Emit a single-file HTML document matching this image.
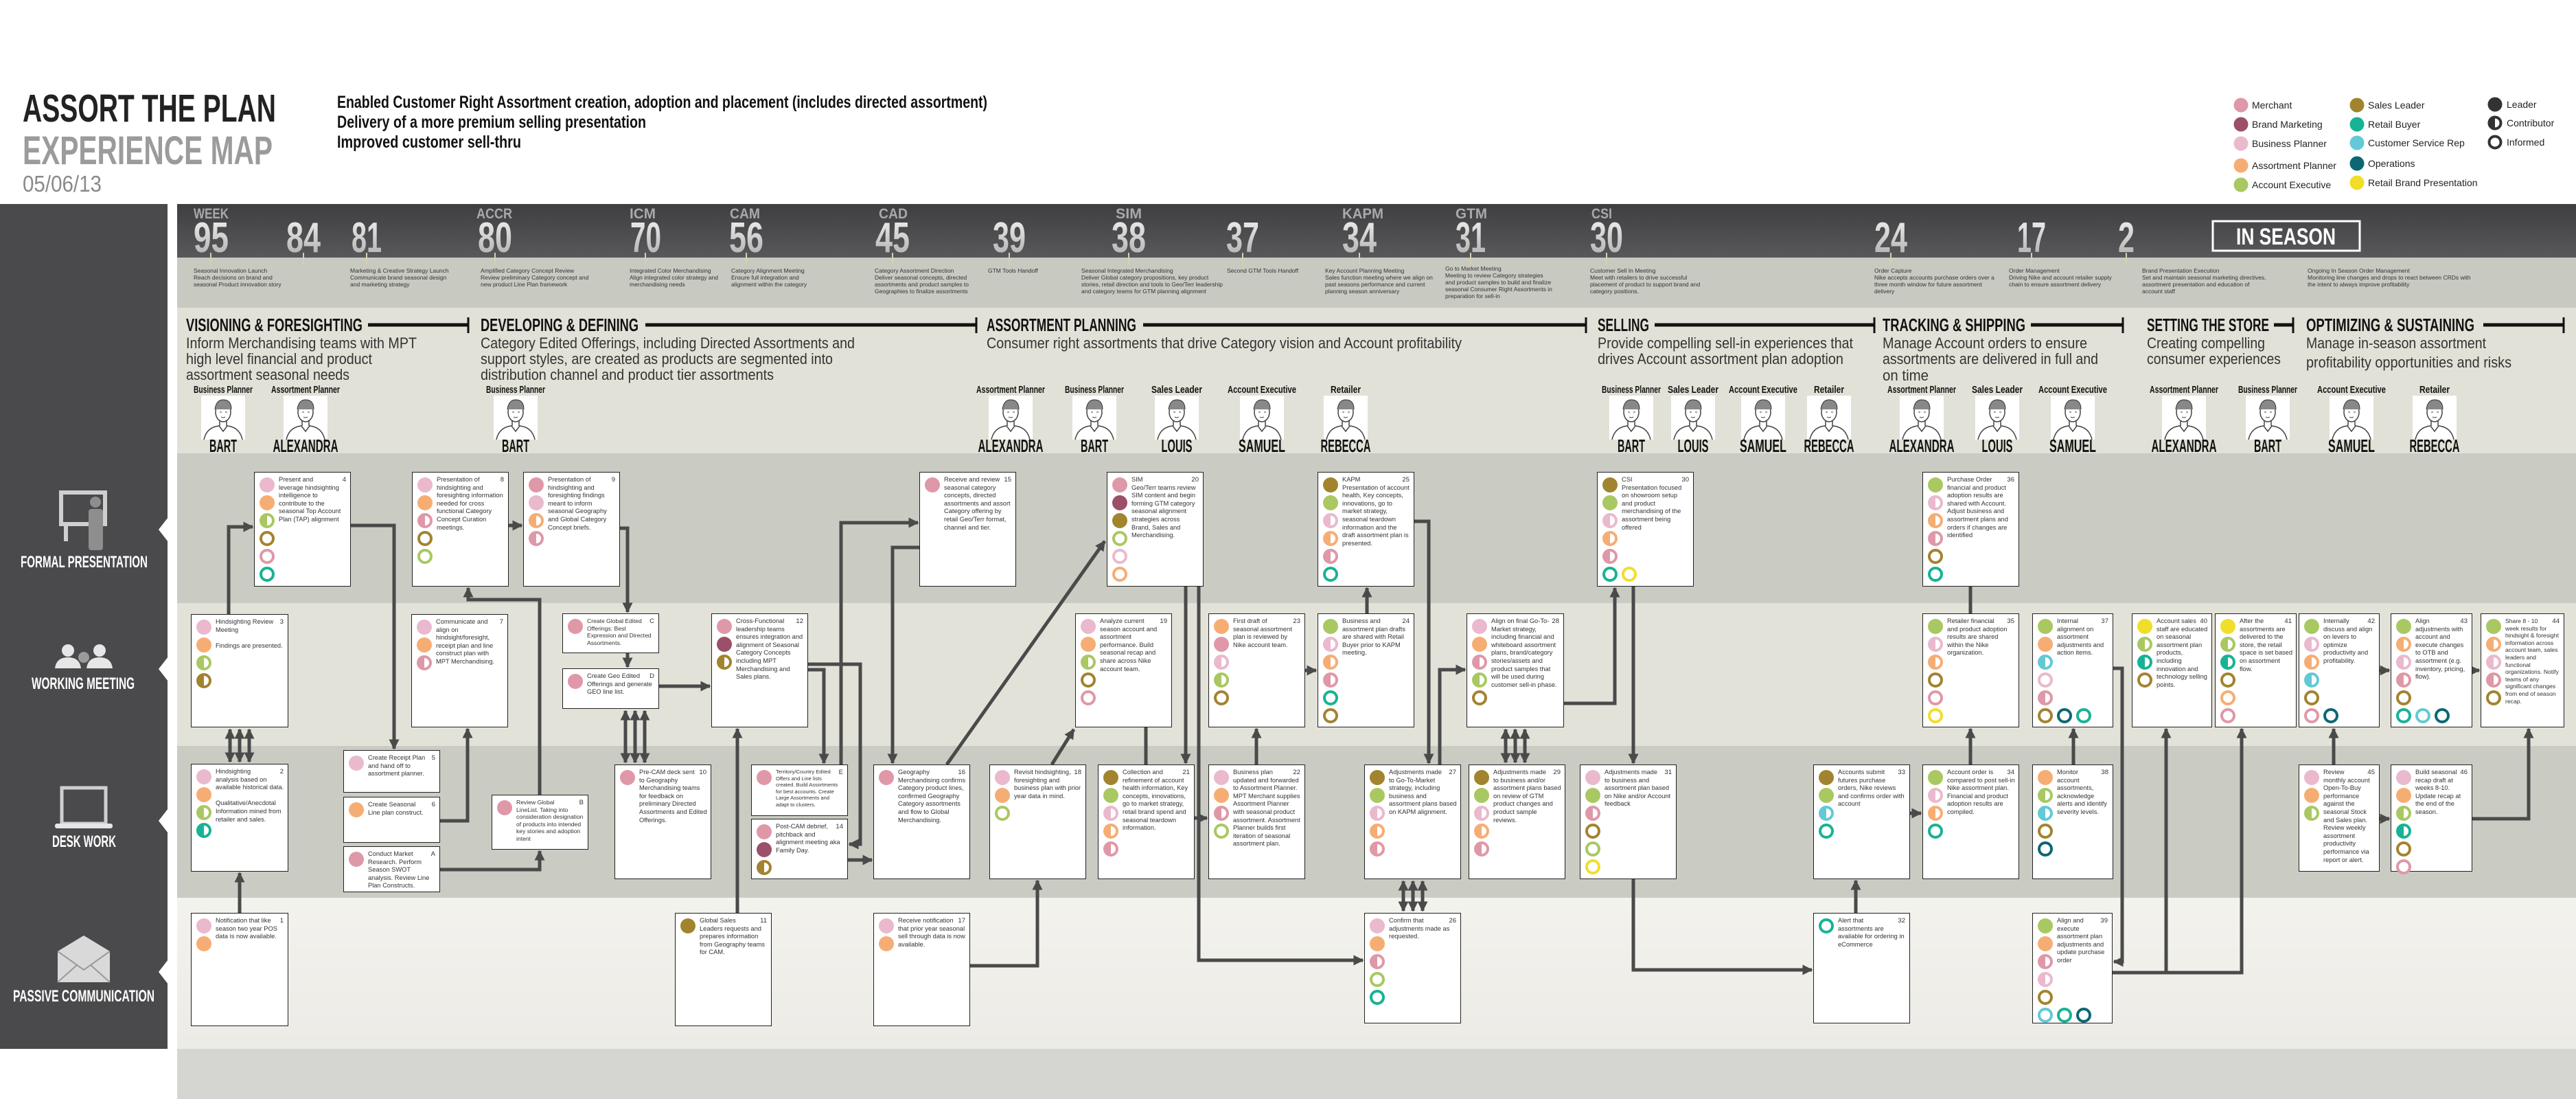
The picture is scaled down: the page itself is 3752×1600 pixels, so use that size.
<!DOCTYPE html>
<html><head><meta charset="utf-8"><style>
body{margin:0;width:3752px;height:1600px;position:relative;overflow:hidden;background:#fff;font-family:"Liberation Sans",sans-serif}
svg.bg{position:absolute;left:0;top:0}
.c{position:absolute;background:#fff;border:1.5px solid #222;box-sizing:border-box;font-size:9.3px;line-height:11.6px;color:#333}
.c p{position:absolute;left:35px;top:5px;right:5px;margin:0}
.c p::before{content:"";float:right;width:13px;height:11px}
.c i{position:absolute;right:6px;top:5px;font-style:normal;font-size:9.5px}
.ds{position:absolute;left:7px;top:7px}
.ds u,.ds s u{display:block;width:22px;height:22px;border-radius:50%;box-sizing:border-box;margin-bottom:4px}
.ds s{display:flex;gap:6px;text-decoration:none}
.F{background:var(--c)}
.R{border:4.5px solid var(--c);background:#fff}
.H{border:4px solid var(--c);background:linear-gradient(90deg,var(--c) 50%,#fff 50%)}
.m{--c:#df98a8}.bm{--c:#9b4f68}.bp{--c:#eab9cd}.ap{--c:#f6ad74}.ae{--c:#a9c862}.sl{--c:#a2842f}.rb{--c:#17b394}.cs{--c:#63c9d6}.op{--c:#0d6772}.rbp{--c:#f1de2b}
.sm{font-size:7.6px!important;line-height:9.6px!important}
.xs{font-size:8.6px!important;line-height:10.6px!important}
</style></head><body>
<svg class="bg" width="3752" height="1600" viewBox="0 0 3752 1600" xmlns="http://www.w3.org/2000/svg" font-family="Liberation Sans, sans-serif">
<defs>
<linearGradient id="ng" x1="0" y1="0" x2="0" y2="1"><stop offset="0" stop-color="#f4f4f4"/><stop offset="1" stop-color="#a9a9a9"/></linearGradient>
<linearGradient id="tb" x1="0" y1="0" x2="0" y2="1"><stop offset="0" stop-color="#3f3f41"/><stop offset="1" stop-color="#58585a"/></linearGradient>
<linearGradient id="pv" x1="0" y1="0" x2="0" y2="1"><stop offset="0" stop-color="#f3f2ed"/><stop offset="1" stop-color="#ecebe6"/></linearGradient>
<marker id="a" viewBox="0 0 10 10" refX="9" refY="5" markerWidth="3" markerHeight="3" orient="auto-start-reverse"><path d="M0,0L10,5L0,10z" fill="#4a4a4a"/></marker>
<g id="pf"><rect x="-32" y="0" width="64" height="64" fill="#fff"/><ellipse cx="0" cy="24" rx="11" ry="14" fill="none" stroke="#444" stroke-width="1.5"/><path d="M-12,20 Q-10,6 0,6 Q12,6 12,20" fill="#888" stroke="#333"/><path d="M-5,37 L-5,44 M5,37 L5,44 M-28,64 Q-24,46 -6,44 L0,52 L6,44 Q24,46 28,64" fill="none" stroke="#444" stroke-width="1.5"/><path d="M-5,24 h3 M3,24 h3 M-3,31 Q0,33 3,31" stroke="#444" fill="none"/></g>
</defs>
<text x="33" y="177" font-size="57" font-weight="bold" fill="#222" textLength="369" lengthAdjust="spacingAndGlyphs">ASSORT THE PLAN</text>
<text x="33" y="239" font-size="58" font-weight="bold" fill="#9b9b9b" textLength="364" lengthAdjust="spacingAndGlyphs">EXPERIENCE MAP</text>
<text x="33" y="279" font-size="33" fill="#8a8a8a" textLength="115" lengthAdjust="spacingAndGlyphs">05/06/13</text>
<g font-size="25" font-weight="bold" fill="#111">
<text x="491" y="157" textLength="947" lengthAdjust="spacingAndGlyphs">Enabled Customer Right Assortment creation, adoption and placement (includes directed assortment)</text>
<text x="491" y="186" textLength="450" lengthAdjust="spacingAndGlyphs">Delivery of a more premium selling presentation</text>
<text x="491" y="215" textLength="268" lengthAdjust="spacingAndGlyphs">Improved customer sell-thru</text>
</g>
<g font-size="14" fill="#222">
<circle cx="3264" cy="153" r="10.5" fill="#df98a8"/><text x="3280" y="158">Merchant</text>
<circle cx="3264" cy="181" r="10.5" fill="#9b4f68"/><text x="3280" y="186">Brand Marketing</text>
<circle cx="3264" cy="209" r="10.5" fill="#eab9cd"/><text x="3280" y="214">Business Planner</text>
<circle cx="3264" cy="241" r="10.5" fill="#f6ad74"/><text x="3280" y="246">Assortment Planner</text>
<circle cx="3264" cy="269" r="10.5" fill="#a9c862"/><text x="3280" y="274">Account Executive</text>
<circle cx="3433" cy="153" r="10.5" fill="#a2842f"/><text x="3449" y="158">Sales Leader</text>
<circle cx="3433" cy="181" r="10.5" fill="#17b394"/><text x="3449" y="186">Retail Buyer</text>
<circle cx="3433" cy="208" r="10.5" fill="#63c9d6"/><text x="3449" y="213">Customer Service Rep</text>
<circle cx="3433" cy="238" r="10.5" fill="#0d6772"/><text x="3449" y="243">Operations</text>
<circle cx="3433" cy="266" r="10.5" fill="#f1de2b"/><text x="3449" y="271">Retail Brand Presentation</text>
<circle cx="3634" cy="152" r="10.5" fill="#333"/><text x="3651" y="157">Leader</text>
<circle cx="3634" cy="179" r="8.5" fill="#fff" stroke="#333" stroke-width="4"/><path d="M3634,168.5 A10.5,10.5 0 0 0 3634,189.5z" fill="#333"/><text x="3651" y="184">Contributor</text>
<circle cx="3634" cy="207" r="8.5" fill="#fff" stroke="#333" stroke-width="4"/><text x="3651" y="212">Informed</text>
</g>
<rect x="0" y="297" width="244" height="1230" fill="#4a4a4c"/>
<rect x="258" y="297" width="3494" height="78" fill="url(#tb)"/>
<rect x="258" y="375" width="3494" height="73" fill="#c8c9c1"/>
<rect x="258" y="448" width="3494" height="212" fill="#e2e1d7"/>
<rect x="258" y="660" width="3494" height="218" fill="#cacbc3"/>
<rect x="258" y="878" width="3494" height="208" fill="#e3e2d9"/>
<rect x="258" y="1086" width="3494" height="221" fill="#cacbc3"/>
<rect x="258" y="1307" width="3494" height="220" fill="url(#pv)"/>
<rect x="258" y="1527" width="3494" height="73" fill="#d5d6d1"/>
<g fill="#fff"><polygon points="245,753 231,771 245,789"/><polygon points="245,956 231,974 245,992"/><polygon points="245,1177 231,1195 245,1213"/><polygon points="245,1397 231,1415 245,1433"/></g>
<g fill="none" stroke="#cfcfcf" stroke-width="6"><rect x="89" y="717" width="64" height="46"/><path d="M96,763 V788"/></g>
<circle cx="139" cy="731" r="8" fill="#8e8e8e"/><rect x="129" y="741" width="21" height="60" rx="4" fill="#8e8e8e"/>
<g fill="#e6e6e6"><circle cx="99" cy="947" r="9"/><circle cx="145" cy="947" r="9"/><path d="M80,973 Q82,957 99,957 Q116,957 118,973z"/><path d="M126,973 Q128,957 145,957 Q162,957 164,973z"/></g><g fill="#9a9a9a"><circle cx="122" cy="957" r="8"/></g>
<rect x="90" y="1147" width="64" height="52" fill="none" stroke="#cfcfcf" stroke-width="5"/><rect x="80" y="1199" width="84" height="7" rx="3" fill="#e6e6e6"/>
<path d="M84,1385 L122,1362 L160,1385 V1430 H84z" fill="#d9d9d9"/><path d="M84,1385 L122,1412 L160,1385 M84,1430 L112,1405 M160,1430 L132,1405" stroke="#999" stroke-width="2" fill="none"/>
<g font-size="24" font-weight="bold" fill="#fff">
<text x="30" y="826" textLength="185" lengthAdjust="spacingAndGlyphs">FORMAL PRESENTATION</text>
<text x="46" y="1003" textLength="150" lengthAdjust="spacingAndGlyphs">WORKING MEETING</text>
<text x="76" y="1233" textLength="93" lengthAdjust="spacingAndGlyphs">DESK WORK</text>
<text x="19" y="1458" textLength="206" lengthAdjust="spacingAndGlyphs">PASSIVE COMMUNICATION</text>
</g>
<g font-size="21" font-weight="bold" fill="#a9a9ab">
<text x="282" y="318" textLength="51" lengthAdjust="spacingAndGlyphs">WEEK</text>
<text x="694" y="318" textLength="52" lengthAdjust="spacingAndGlyphs">ACCR</text>
<text x="917" y="318" textLength="38" lengthAdjust="spacingAndGlyphs">ICM</text>
<text x="1063" y="318" textLength="44" lengthAdjust="spacingAndGlyphs">CAM</text>
<text x="1280" y="318" textLength="42" lengthAdjust="spacingAndGlyphs">CAD</text>
<text x="1625" y="318" textLength="38" lengthAdjust="spacingAndGlyphs">SIM</text>
<text x="1955" y="318" textLength="60" lengthAdjust="spacingAndGlyphs">KAPM</text>
<text x="2120" y="318" textLength="46" lengthAdjust="spacingAndGlyphs">GTM</text>
<text x="2318" y="318" textLength="30" lengthAdjust="spacingAndGlyphs">CSI</text>
</g>
<g font-size="62" font-weight="bold" fill="url(#ng)">
<text x="282" y="367" textLength="51" lengthAdjust="spacingAndGlyphs">95</text>
<text x="417" y="367" textLength="50" lengthAdjust="spacingAndGlyphs">84</text>
<text x="512" y="367" textLength="44" lengthAdjust="spacingAndGlyphs">81</text>
<text x="696" y="367" textLength="50" lengthAdjust="spacingAndGlyphs">80</text>
<text x="918" y="367" textLength="45" lengthAdjust="spacingAndGlyphs">70</text>
<text x="1062" y="367" textLength="50" lengthAdjust="spacingAndGlyphs">56</text>
<text x="1275" y="367" textLength="50" lengthAdjust="spacingAndGlyphs">45</text>
<text x="1446" y="367" textLength="48" lengthAdjust="spacingAndGlyphs">39</text>
<text x="1619" y="367" textLength="50" lengthAdjust="spacingAndGlyphs">38</text>
<text x="1786" y="367" textLength="48" lengthAdjust="spacingAndGlyphs">37</text>
<text x="1955" y="367" textLength="50" lengthAdjust="spacingAndGlyphs">34</text>
<text x="2120" y="367" textLength="44" lengthAdjust="spacingAndGlyphs">31</text>
<text x="2316" y="367" textLength="48" lengthAdjust="spacingAndGlyphs">30</text>
<text x="2730" y="367" textLength="48" lengthAdjust="spacingAndGlyphs">24</text>
<text x="2938" y="367" textLength="42" lengthAdjust="spacingAndGlyphs">17</text>
<text x="3085" y="367" textLength="24" lengthAdjust="spacingAndGlyphs">2</text>
</g>
<g stroke="#d6d1ad" stroke-width="2"><path d="M307,368V385M442,368V385M534,368V385M721,368V385M940,368V385M1087,368V385M1300,368V385M1470,368V385M1644,368V385M1810,368V385M1980,368V385M2142,368V385M2340,368V385M2754,368V385M2959,368V385M3097,368V385"/></g>
<rect x="3223" y="322" width="214" height="43" fill="none" stroke="#fff" stroke-width="3"/>
<text x="3257" y="356" font-size="34" font-weight="bold" fill="#fff" textLength="145" lengthAdjust="spacingAndGlyphs">IN SEASON</text>
<g font-size="8.5" fill="#333">
<text x="282" y="397"><tspan x="282">Seasonal Innovation Launch</tspan><tspan x="282" dy="10">Reach decisions on brand and</tspan><tspan x="282" dy="10">seasonal Product innovation story</tspan></text>
<text x="510" y="397"><tspan x="510">Marketing &amp; Creative Strategy Launch</tspan><tspan x="510" dy="10">Communicate brand seasonal design</tspan><tspan x="510" dy="10">and marketing strategy</tspan></text>
<text x="700" y="397"><tspan x="700">Amplified Category Concept Review</tspan><tspan x="700" dy="10">Review preliminary Category concept and</tspan><tspan x="700" dy="10">new product Line Plan framework</tspan></text>
<text x="917" y="397"><tspan x="917">Integrated Color Merchandising</tspan><tspan x="917" dy="10">Align integrated color strategy and</tspan><tspan x="917" dy="10">merchandising needs</tspan></text>
<text x="1065" y="397"><tspan x="1065">Category Alignment Meeting</tspan><tspan x="1065" dy="10">Ensure full integration and</tspan><tspan x="1065" dy="10">alignment within the category</tspan></text>
<text x="1274" y="397"><tspan x="1274">Category Assortment Direction</tspan><tspan x="1274" dy="10">Deliver seasonal concepts, directed</tspan><tspan x="1274" dy="10">assortments and product samples to</tspan><tspan x="1274" dy="10">Geographies to finalize assortments</tspan></text>
<text x="1439" y="397">GTM Tools Handoff</text>
<text x="1575" y="397"><tspan x="1575">Seasonal Integrated Merchandising</tspan><tspan x="1575" dy="10">Deliver Global category propositions, key product</tspan><tspan x="1575" dy="10">stories, retail direction and tools to Geo/Terr leadership</tspan><tspan x="1575" dy="10">and category teams for GTM planning alignment</tspan></text>
<text x="1787" y="397">Second GTM Tools Handoff</text>
<text x="1930" y="397"><tspan x="1930">Key Account Planning Meeting</tspan><tspan x="1930" dy="10">Sales function meeting where we align on</tspan><tspan x="1930" dy="10">past seasons performance and current</tspan><tspan x="1930" dy="10">planning season anniversary</tspan></text>
<text x="2105" y="394"><tspan x="2105">Go to Market Meeting</tspan><tspan x="2105" dy="10">Meeting to review Category strategies</tspan><tspan x="2105" dy="10">and product samples to build and finalize</tspan><tspan x="2105" dy="10">seasonal Consumer Right Assortments in</tspan><tspan x="2105" dy="10">preparation for sell-in</tspan></text>
<text x="2316" y="397"><tspan x="2316">Customer Sell In Meeting</tspan><tspan x="2316" dy="10">Meet with retailers to drive successful</tspan><tspan x="2316" dy="10">placement of product to support brand and</tspan><tspan x="2316" dy="10">category positions.</tspan></text>
<text x="2730" y="397"><tspan x="2730">Order Capture</tspan><tspan x="2730" dy="10">Nike accepts accounts purchase orders over a</tspan><tspan x="2730" dy="10">three month window for future assortment</tspan><tspan x="2730" dy="10">delivery</tspan></text>
<text x="2926" y="397"><tspan x="2926">Order Management</tspan><tspan x="2926" dy="10">Driving Nike and account retailer supply</tspan><tspan x="2926" dy="10">chain to ensure assortment delivery</tspan></text>
<text x="3120" y="397"><tspan x="3120">Brand Presentation Execution</tspan><tspan x="3120" dy="10">Set and maintain seasonal marketing directives,</tspan><tspan x="3120" dy="10">assortment presentation and education of</tspan><tspan x="3120" dy="10">account staff</tspan></text>
<text x="3361" y="397"><tspan x="3361">Ongoing In Season Order Management</tspan><tspan x="3361" dy="10">Monitoring line changes and drops to react between CRDs with</tspan><tspan x="3361" dy="10">the intent to always improve profitability</tspan></text>
</g>
<g font-size="26" font-weight="bold" fill="#111">
<text x="271" y="482" textLength="257" lengthAdjust="spacingAndGlyphs">VISIONING &amp; FORESIGHTING</text>
<text x="700" y="482" textLength="230" lengthAdjust="spacingAndGlyphs">DEVELOPING &amp; DEFINING</text>
<text x="1437" y="482" textLength="218" lengthAdjust="spacingAndGlyphs">ASSORTMENT PLANNING</text>
<text x="2327" y="482" textLength="75" lengthAdjust="spacingAndGlyphs">SELLING</text>
<text x="2742" y="482" textLength="208" lengthAdjust="spacingAndGlyphs">TRACKING &amp; SHIPPING</text>
<text x="3127" y="482" textLength="178" lengthAdjust="spacingAndGlyphs">SETTING THE STORE</text>
<text x="3359" y="482" textLength="245" lengthAdjust="spacingAndGlyphs">OPTIMIZING &amp; SUSTAINING</text>
</g>
<g stroke="#111" stroke-width="5"><path d="M536,473H681M940,473H1421M1665,473H2309M2410,473H2729M2958,473H3091M3312,473H3339M3617,473H3733"/></g>
<g stroke="#111" stroke-width="3"><path d="M682,462V485M1422,462V485M2310,462V485M2730,462V485M3092,462V485M3340,462V485M3734,462V485"/></g>
<g font-size="22" fill="#333">
<text x="271" y="507" textLength="336" lengthAdjust="spacingAndGlyphs">Inform Merchandising teams with MPT</text>
<text x="271" y="530" textLength="271" lengthAdjust="spacingAndGlyphs">high level financial and product</text>
<text x="271" y="553" textLength="238" lengthAdjust="spacingAndGlyphs">assortment seasonal needs</text>
<text x="700" y="507" textLength="545" lengthAdjust="spacingAndGlyphs">Category Edited Offerings, including Directed Assortments and</text>
<text x="700" y="530" textLength="513" lengthAdjust="spacingAndGlyphs">support styles, are created as products are segmented into</text>
<text x="700" y="553" textLength="427" lengthAdjust="spacingAndGlyphs">distribution channel and product tier assortments</text>
<text x="1437" y="507" textLength="692" lengthAdjust="spacingAndGlyphs">Consumer right assortments that drive Category vision and Account profitability</text>
<text x="2327" y="507" textLength="372" lengthAdjust="spacingAndGlyphs">Provide compelling sell-in experiences that</text>
<text x="2327" y="530" textLength="358" lengthAdjust="spacingAndGlyphs">drives Account assortment plan adoption</text>
<text x="2742" y="507" textLength="298" lengthAdjust="spacingAndGlyphs">Manage Account orders to ensure</text>
<text x="2742" y="530" textLength="314" lengthAdjust="spacingAndGlyphs">assortments are delivered in full and</text>
<text x="2742" y="554" textLength="67" lengthAdjust="spacingAndGlyphs">on time</text>
<text x="3127" y="507" textLength="172" lengthAdjust="spacingAndGlyphs">Creating compelling</text>
<text x="3127" y="530" textLength="195" lengthAdjust="spacingAndGlyphs">consumer experiences</text>
<text x="3359" y="507" textLength="262" lengthAdjust="spacingAndGlyphs">Manage in-season assortment</text>
<text x="3359" y="535" textLength="299" lengthAdjust="spacingAndGlyphs">profitability opportunities and risks</text>
</g>
<g font-weight="bold" fill="#111" text-anchor="middle">
<g transform="translate(325,0)"><text y="572" font-size="15" textLength="86" lengthAdjust="spacingAndGlyphs">Business Planner</text><use href="#pf" y="576"/><text y="658" font-size="26" textLength="40" lengthAdjust="spacingAndGlyphs">BART</text></g>
<g transform="translate(445,0)"><text y="572" font-size="15" textLength="100" lengthAdjust="spacingAndGlyphs">Assortment Planner</text><use href="#pf" y="576"/><text y="658" font-size="26" textLength="95" lengthAdjust="spacingAndGlyphs">ALEXANDRA</text></g>
<g transform="translate(751,0)"><text y="572" font-size="15" textLength="86" lengthAdjust="spacingAndGlyphs">Business Planner</text><use href="#pf" y="576"/><text y="658" font-size="26" textLength="40" lengthAdjust="spacingAndGlyphs">BART</text></g>
<g transform="translate(1472,0)"><text y="572" font-size="15" textLength="100" lengthAdjust="spacingAndGlyphs">Assortment Planner</text><use href="#pf" y="576"/><text y="658" font-size="26" textLength="95" lengthAdjust="spacingAndGlyphs">ALEXANDRA</text></g>
<g transform="translate(1594,0)"><text y="572" font-size="15" textLength="86" lengthAdjust="spacingAndGlyphs">Business Planner</text><use href="#pf" y="576"/><text y="658" font-size="26" textLength="40" lengthAdjust="spacingAndGlyphs">BART</text></g>
<g transform="translate(1714,0)"><text y="572" font-size="15" textLength="74" lengthAdjust="spacingAndGlyphs">Sales Leader</text><use href="#pf" y="576"/><text y="658" font-size="26" textLength="45" lengthAdjust="spacingAndGlyphs">LOUIS</text></g>
<g transform="translate(1838,0)"><text y="572" font-size="15" textLength="100" lengthAdjust="spacingAndGlyphs">Account Executive</text><use href="#pf" y="576"/><text y="658" font-size="26" textLength="68" lengthAdjust="spacingAndGlyphs">SAMUEL</text></g>
<g transform="translate(1960,0)"><text y="572" font-size="15" textLength="44" lengthAdjust="spacingAndGlyphs">Retailer</text><use href="#pf" y="576"/><text y="658" font-size="26" textLength="73" lengthAdjust="spacingAndGlyphs">REBECCA</text></g>
<g transform="translate(2376,0)"><text y="572" font-size="15" textLength="86" lengthAdjust="spacingAndGlyphs">Business Planner</text><use href="#pf" y="576"/><text y="658" font-size="26" textLength="40" lengthAdjust="spacingAndGlyphs">BART</text></g>
<g transform="translate(2466,0)"><text y="572" font-size="15" textLength="74" lengthAdjust="spacingAndGlyphs">Sales Leader</text><use href="#pf" y="576"/><text y="658" font-size="26" textLength="45" lengthAdjust="spacingAndGlyphs">LOUIS</text></g>
<g transform="translate(2568,0)"><text y="572" font-size="15" textLength="100" lengthAdjust="spacingAndGlyphs">Account Executive</text><use href="#pf" y="576"/><text y="658" font-size="26" textLength="68" lengthAdjust="spacingAndGlyphs">SAMUEL</text></g>
<g transform="translate(2664,0)"><text y="572" font-size="15" textLength="44" lengthAdjust="spacingAndGlyphs">Retailer</text><use href="#pf" y="576"/><text y="658" font-size="26" textLength="73" lengthAdjust="spacingAndGlyphs">REBECCA</text></g>
<g transform="translate(2799,0)"><text y="572" font-size="15" textLength="100" lengthAdjust="spacingAndGlyphs">Assortment Planner</text><use href="#pf" y="576"/><text y="658" font-size="26" textLength="95" lengthAdjust="spacingAndGlyphs">ALEXANDRA</text></g>
<g transform="translate(2909,0)"><text y="572" font-size="15" textLength="74" lengthAdjust="spacingAndGlyphs">Sales Leader</text><use href="#pf" y="576"/><text y="658" font-size="26" textLength="45" lengthAdjust="spacingAndGlyphs">LOUIS</text></g>
<g transform="translate(3019,0)"><text y="572" font-size="15" textLength="100" lengthAdjust="spacingAndGlyphs">Account Executive</text><use href="#pf" y="576"/><text y="658" font-size="26" textLength="68" lengthAdjust="spacingAndGlyphs">SAMUEL</text></g>
<g transform="translate(3181,0)"><text y="572" font-size="15" textLength="100" lengthAdjust="spacingAndGlyphs">Assortment Planner</text><use href="#pf" y="576"/><text y="658" font-size="26" textLength="95" lengthAdjust="spacingAndGlyphs">ALEXANDRA</text></g>
<g transform="translate(3303,0)"><text y="572" font-size="15" textLength="86" lengthAdjust="spacingAndGlyphs">Business Planner</text><use href="#pf" y="576"/><text y="658" font-size="26" textLength="40" lengthAdjust="spacingAndGlyphs">BART</text></g>
<g transform="translate(3425,0)"><text y="572" font-size="15" textLength="100" lengthAdjust="spacingAndGlyphs">Account Executive</text><use href="#pf" y="576"/><text y="658" font-size="26" textLength="68" lengthAdjust="spacingAndGlyphs">SAMUEL</text></g>
<g transform="translate(3546,0)"><text y="572" font-size="15" textLength="44" lengthAdjust="spacingAndGlyphs">Retailer</text><use href="#pf" y="576"/><text y="658" font-size="26" textLength="73" lengthAdjust="spacingAndGlyphs">REBECCA</text></g>
</g>
<g fill="none" stroke="#4a4a4a" stroke-width="5" marker-end="url(#a)">
<path d="M349,1329V1271"/>
<path d="M335,1062V1109" marker-start="url(#a)"/><path d="M349,1062V1109" marker-start="url(#a)"/><path d="M363,1062V1109" marker-start="url(#a)"/>
<path d="M333,894V767H368"/>
<path d="M511,765H574V1090"/>
<path d="M641,1195H681V1061"/>
<path d="M786,1157V873H682V856"/>
<path d="M641,1266H786V1239"/>
<path d="M741,765H760"/>
<path d="M903,769H914V891"/>
<path d="M914,951V971"/>
<path d="M911,1035V1110" marker-start="url(#a)"/><path d="M925,1035V1110" marker-start="url(#a)"/><path d="M939,1035V1110" marker-start="url(#a)"/>
<path d="M960,999H1034"/>
<path d="M1074,1329V1061"/>
<path d="M1177,967H1253V1229H1237"/>
<path d="M1177,975H1200V1111"/>
<path d="M1225,1113V761H1337"/>
<path d="M1235,1252H1270"/>
<path d="M1339,797H1300V1111"/>
<path d="M1379,1113L1609,788"/>
<path d="M1532,1113L1564,1062"/>
<path d="M1413,1406H1511V1282"/>
<path d="M1669,1059V1113" marker-end="none"/>
<path d="M1727,854V1111"/>
<path d="M1746,854V1398H1985"/>
<path d="M1740,1191H1758"/>
<path d="M1830,1113V1061"/>
<path d="M1901,976H1917"/>
<path d="M1991,893V856"/>
<path d="M2060,759H2081V1111"/>
<path d="M2097,1113V975H2134"/>
<path d="M2044,1283V1326" marker-start="url(#a)"/><path d="M2058,1283V1326" marker-start="url(#a)"/><path d="M2072,1283V1326" marker-start="url(#a)"/>
<path d="M2193,1062V1110" marker-start="url(#a)"/><path d="M2207,1062V1110" marker-start="url(#a)"/><path d="M2221,1062V1110" marker-start="url(#a)"/>
<path d="M2278,1024H2352V856"/>
<path d="M2379,854V1111"/>
<path d="M2379,1280V1412H2639"/>
<path d="M2703,1329V1282"/>
<path d="M2782,1184H2798"/>
<path d="M2870,1113V1061"/>
<path d="M2870,893V854" marker-end="none"/>
<path d="M3020,1113V1061"/>
<path d="M3078,973H3091V1400H3079"/>
<path d="M3077,1416H3265V1061"/>
<path d="M3155,1416V1061"/>
<path d="M3399,1113V1061"/>
<path d="M3466,976H3480"/>
<path d="M3601,976H3611"/>
<path d="M3466,1192H3480"/>
<path d="M3601,1192H3683V1061"/>
</g>
</svg>

<div class="c" style="left:370px;top:687px;width:141px;height:167px"><i>4</i><p>Present and leverage hindsighting intelligence to contribute to the seasonal Top Account Plan (TAP) alignment</p><div class="ds"><u class="F bp"></u><u class="F ap"></u><u class="H ae"></u><u class="R sl"></u><u class="R m"></u><u class="R rb"></u></div></div>
<div class="c" style="left:600px;top:687px;width:141px;height:167px"><i>8</i><p>Presentation of hindsighting and foresighting information needed for cross functional Category Concept Curation meetings.</p><div class="ds"><u class="F bp"></u><u class="F ap"></u><u class="H m"></u><u class="R sl"></u><u class="R ae"></u></div></div>
<div class="c" style="left:762px;top:687px;width:141px;height:167px"><i>9</i><p>Presentation of hindsighting and foresighting findings meant to inform seasonal Geography and Global Category Concept briefs.</p><div class="ds"><u class="F m"></u><u class="F bp"></u><u class="H ap"></u><u class="H m"></u></div></div>
<div class="c" style="left:1339px;top:687px;width:141px;height:167px"><i>15</i><p>Receive and review seasonal category concepts, directed assortments and assort Category offering by retail Geo/Terr format, channel and tier.</p><div class="ds"><u class="F m"></u></div></div>
<div class="c" style="left:1612px;top:687px;width:141px;height:167px"><i>20</i><p>SIM<br>Geo/Terr teams review SIM content and begin forming GTM category seasonal alignment strategies across Brand, Sales and Merchandising.</p><div class="ds"><u class="F m"></u><u class="F bm"></u><u class="F sl"></u><u class="R ae"></u><u class="R bp"></u><u class="R ap"></u></div></div>
<div class="c" style="left:1919px;top:687px;width:141px;height:167px"><i>25</i><p>KAPM<br>Presentation of account health, Key concepts, innovations, go to market strategy, seasonal teardown information and the draft assortment plan is presented.</p><div class="ds"><u class="F sl"></u><u class="F ae"></u><u class="H bp"></u><u class="H ap"></u><u class="H m"></u><u class="R rb"></u></div></div>
<div class="c" style="left:2326px;top:687px;width:141px;height:167px"><i>30</i><p>CSI<br>Presentation focused on showroom setup and product merchandising of the assortment being offered</p><div class="ds"><u class="F sl"></u><u class="F ae"></u><u class="H bp"></u><u class="H ap"></u><u class="H m"></u><s><u class="R rb"></u><u class="R rbp"></u></s></div></div>
<div class="c" style="left:2800px;top:687px;width:141px;height:167px"><i>36</i><p>Purchase Order financial and product adoption results are shared with Account. Adjust business and assortment plans and orders if changes are identified</p><div class="ds"><u class="F ae"></u><u class="H bp"></u><u class="H ap"></u><u class="H m"></u><u class="R sl"></u><u class="R rb"></u></div></div>

<div class="c" style="left:278px;top:894px;width:142px;height:165px"><i>3</i><p>Hindsighting Review Meeting<br><br>Findings are presented.</p><div class="ds"><u class="F bp"></u><u class="F ap"></u><u class="H ae"></u><u class="H sl"></u></div></div>
<div class="c" style="left:599px;top:894px;width:141px;height:165px"><i>7</i><p>Communicate and align on hindsight/foresight, receipt plan and line construct plan with MPT Merchandising.</p><div class="ds"><u class="F bp"></u><u class="F ap"></u><u class="H m"></u></div></div>
<div class="c" style="left:819px;top:893px;width:141px;height:58px"><i>C</i><p class="xs">Create Global Edited Offerings: Best Expression and Directed Assortments.</p><div class="ds"><u class="F m"></u></div></div>
<div class="c" style="left:819px;top:973px;width:141px;height:59px"><i>D</i><p>Create Geo Edited Offerings and generate GEO line list.</p><div class="ds"><u class="F m"></u></div></div>
<div class="c" style="left:1036px;top:893px;width:141px;height:166px"><i>12</i><p>Cross-Functional leadership teams ensures integration and alignment of Seasonal Category Concepts including MPT Merchandising and Sales plans.</p><div class="ds"><u class="F m"></u><u class="F bm"></u><u class="H sl"></u></div></div>
<div class="c" style="left:1566px;top:893px;width:141px;height:166px"><i>19</i><p>Analyze current season account and assortment performance. Build seasonal recap and share across Nike account team.</p><div class="ds"><u class="F bp"></u><u class="F ap"></u><u class="H ae"></u><u class="R sl"></u><u class="R m"></u></div></div>
<div class="c" style="left:1760px;top:893px;width:141px;height:166px"><i>23</i><p>First draft of seasonal assortment plan is reviewed by Nike account team.</p><div class="ds"><u class="F ap"></u><u class="F m"></u><u class="H bp"></u><u class="H ae"></u><u class="R sl"></u></div></div>
<div class="c" style="left:1919px;top:893px;width:141px;height:166px"><i>24</i><p>Business and assortment plan drafts are shared with Retail Buyer prior to KAPM meeting.</p><div class="ds"><u class="F ae"></u><u class="H bp"></u><u class="H ap"></u><u class="H m"></u><u class="R rb"></u><u class="R sl"></u></div></div>
<div class="c" style="left:2136px;top:893px;width:142px;height:166px"><i>28</i><p>Align on final Go-To-Market strategy, including financial and whiteboard assortment plans, brand/category stories/assets and product samples that will be used during customer sell-in phase.</p><div class="ds"><u class="F bp"></u><u class="F ap"></u><u class="H m"></u><u class="H ae"></u><u class="R sl"></u></div></div>
<div class="c" style="left:2800px;top:893px;width:141px;height:166px"><i>35</i><p>Retailer financial and product adoption results are shared within the Nike organization.</p><div class="ds"><u class="F ae"></u><u class="H bp"></u><u class="H ap"></u><u class="R sl"></u><u class="R m"></u><u class="R rbp"></u></div></div>
<div class="c" style="left:2960px;top:893px;width:118px;height:166px"><i>37</i><p>Internal alignment on assortment adjustments and action items.</p><div class="ds"><u class="F ae"></u><u class="F ap"></u><u class="H cs"></u><u class="R bp"></u><u class="H m"></u><s><u class="R sl"></u><u class="R op"></u><u class="R rb"></u></s></div></div>
<div class="c" style="left:3105px;top:893px;width:117px;height:166px"><i>40</i><p>Account sales staff are educated on seasonal assortment plan products, including innovation and technology selling points.</p><div class="ds"><u class="F rbp"></u><u class="H ae"></u><u class="H rb"></u><u class="R sl"></u></div></div>
<div class="c" style="left:3226px;top:893px;width:119px;height:166px"><i>41</i><p>After the assortments are delivered to the store, the retail space is set based on assortment flow.</p><div class="ds"><u class="F rbp"></u><u class="H ae"></u><u class="H rb"></u><u class="R sl"></u><u class="R ap"></u><u class="R m"></u></div></div>
<div class="c" style="left:3348px;top:893px;width:118px;height:166px"><i>42</i><p>Internally discuss and align on levers to optimize productivity and profitability.</p><div class="ds"><u class="F ae"></u><u class="H bp"></u><u class="H ap"></u><u class="H cs"></u><u class="R sl"></u><s><u class="R m"></u><u class="R op"></u></s></div></div>
<div class="c" style="left:3482px;top:893px;width:119px;height:166px"><i>43</i><p>Align adjustments with account and execute changes to OTB and assortment (e.g. inventory, pricing, flow).</p><div class="ds"><u class="F ae"></u><u class="H ap"></u><u class="H bp"></u><u class="H m"></u><u class="R sl"></u><s><u class="R rb"></u><u class="R cs"></u><u class="R op"></u></s></div></div>
<div class="c" style="left:3613px;top:893px;width:122px;height:166px"><i>44</i><p class="xs">Share 8 - 10 week results for hindsight &amp; foresight information across account team, sales leaders and functional organizations. Notify teams of any significant changes from end of season recap.</p><div class="ds"><u class="F ae"></u><u class="H ap"></u><u class="H bp"></u><u class="H m"></u><u class="R sl"></u></div></div>

<div class="c" style="left:278px;top:1112px;width:142px;height:157px"><i>2</i><p>Hindsighting analysis based on available historical data.<br><br>Qualitative/Anecdotal Information mined from retailer and sales.</p><div class="ds"><u class="F bp"></u><u class="F ap"></u><u class="H ae"></u><u class="H rb"></u></div></div>
<div class="c" style="left:500px;top:1092px;width:141px;height:62px"><i>5</i><p>Create Receipt Plan and hand off to assortment planner.</p><div class="ds"><u class="F bp"></u></div></div>
<div class="c" style="left:500px;top:1160px;width:141px;height:67px"><i>6</i><p>Create Seasonal Line plan construct.</p><div class="ds"><u class="F ap"></u></div></div>
<div class="c" style="left:500px;top:1232px;width:141px;height:67px"><i>A</i><p>Conduct Market Research. Perform Season SWOT analysis. Review Line Plan Constructs.</p><div class="ds"><u class="F m"></u></div></div>
<div class="c" style="left:716px;top:1157px;width:141px;height:80px"><i>B</i><p class="xs">Review Global LineList. Taking into consideration designation of products into intended key stories and adoption intent</p><div class="ds"><u class="F m"></u></div></div>
<div class="c" style="left:895px;top:1113px;width:141px;height:167px"><i>10</i><p>Pre-CAM deck sent to Geography Merchandising teams for feedback on preliminary Directed Assortments and Edited Offerings.</p><div class="ds"><u class="F m"></u></div></div>
<div class="c" style="left:1094px;top:1113px;width:141px;height:75px"><i>E</i><p class="sm">Territory/Country Edited Offers and Line lists created. Build Assortments for best accounts. Create Large Assortments and adapt to clusters.</p><div class="ds"><u class="F m"></u></div></div>
<div class="c" style="left:1094px;top:1192px;width:141px;height:88px"><i>14</i><p>Post-CAM debrief, pitchback and alignment meeting aka Family Day.</p><div class="ds"><u class="F m"></u><u class="F bm"></u><u class="H sl"></u></div></div>
<div class="c" style="left:1272px;top:1113px;width:141px;height:167px"><i>16</i><p>Geography Merchandising confirms Category product lines, confirmed Geography Category assortments and flow to Global Merchandising.</p><div class="ds"><u class="F m"></u></div></div>
<div class="c" style="left:1441px;top:1113px;width:141px;height:167px"><i>18</i><p>Revisit hindsighting, foresighting and business plan with prior year data in mind.</p><div class="ds"><u class="F bp"></u><u class="F ap"></u><u class="R ae"></u></div></div>
<div class="c" style="left:1599px;top:1113px;width:141px;height:167px"><i>21</i><p>Collection and refinement of account health information, Key concepts, innovations, go to market strategy, retail brand spend and seasonal teardown information.</p><div class="ds"><u class="F sl"></u><u class="F ae"></u><u class="H bp"></u><u class="H ap"></u><u class="H m"></u></div></div>
<div class="c" style="left:1760px;top:1113px;width:141px;height:167px"><i>22</i><p>Business plan updated and forwarded to Assortment Planner. MPT Merchant supplies Assortment Planner with seasonal product assortment. Assortment Planner builds first iteration of seasonal assortment plan.</p><div class="ds"><u class="F bp"></u><u class="F ap"></u><u class="H m"></u><u class="R ae"></u></div></div>
<div class="c" style="left:1987px;top:1113px;width:141px;height:167px"><i>27</i><p>Adjustments made to Go-To-Market strategy, including business and assortment plans based on KAPM alignment.</p><div class="ds"><u class="F sl"></u><u class="F ae"></u><u class="H bp"></u><u class="H ap"></u><u class="H m"></u></div></div>
<div class="c" style="left:2139px;top:1113px;width:141px;height:167px"><i>29</i><p>Adjustments made to business and/or assortment plans based on review of GTM product changes and product sample reviews.</p><div class="ds"><u class="F sl"></u><u class="F ae"></u><u class="H bp"></u><u class="H ap"></u><u class="H m"></u></div></div>
<div class="c" style="left:2301px;top:1113px;width:141px;height:167px"><i>31</i><p>Adjustments made to business and assortment plan based on Nike and/or Account feedback</p><div class="ds"><u class="F bp"></u><u class="F ae"></u><u class="H m"></u><u class="R sl"></u><u class="R ae"></u><u class="R rbp"></u></div></div>
<div class="c" style="left:2641px;top:1113px;width:141px;height:167px"><i>33</i><p>Accounts submit futures purchase orders, Nike reviews and confirms order with account</p><div class="ds"><u class="F sl"></u><u class="F ae"></u><u class="H cs"></u><u class="R rb"></u></div></div>
<div class="c" style="left:2800px;top:1113px;width:141px;height:167px"><i>34</i><p>Account order is compared to post sell-in Nike assortment plan. Financial and product adoption results are compiled.</p><div class="ds"><u class="F ae"></u><u class="H bp"></u><u class="H ap"></u><u class="R rb"></u></div></div>
<div class="c" style="left:2960px;top:1113px;width:118px;height:167px"><i>38</i><p>Monitor account assortments, acknowledge alerts and identify severity levels.</p><div class="ds"><u class="F ap"></u><u class="H ae"></u><u class="H cs"></u><u class="R sl"></u><u class="R op"></u></div></div>
<div class="c" style="left:3348px;top:1113px;width:118px;height:156px"><i>45</i><p>Review monthly account Open-To-Buy performance against the seasonal Stock and Sales plan. Review weekly assortment productivity performance via report or alert.</p><div class="ds"><u class="F bp"></u><u class="F ap"></u><u class="H ae"></u></div></div>
<div class="c" style="left:3482px;top:1113px;width:119px;height:156px"><i>46</i><p>Build seasonal recap draft at weeks 8-10. Update recap at the end of the season.</p><div class="ds"><u class="F bp"></u><u class="F ap"></u><u class="H ae"></u><u class="H rb"></u><u class="R sl"></u><u class="R m"></u></div></div>

<div class="c" style="left:278px;top:1329px;width:142px;height:165px"><i>1</i><p>Notification that like season two year POS data is now available.</p><div class="ds"><u class="F bp"></u><u class="F ap"></u></div></div>
<div class="c" style="left:983px;top:1329px;width:141px;height:165px"><i>11</i><p>Global Sales Leaders requests and prepares information from Geography teams for CAM.</p><div class="ds"><u class="F sl"></u></div></div>
<div class="c" style="left:1272px;top:1329px;width:141px;height:165px"><i>17</i><p>Receive notification that prior year seasonal sell through data is now available.</p><div class="ds"><u class="F bp"></u><u class="F ap"></u></div></div>
<div class="c" style="left:1987px;top:1329px;width:141px;height:161px"><i>26</i><p>Confirm that adjustments made as requested.</p><div class="ds"><u class="F bp"></u><u class="F ap"></u><u class="H m"></u><u class="R ae"></u><u class="R rb"></u></div></div>
<div class="c" style="left:2641px;top:1329px;width:141px;height:161px"><i>32</i><p>Alert that assortments are available for ordering in eCommerce</p><div class="ds"><u class="R rb"></u></div></div>
<div class="c" style="left:2960px;top:1329px;width:117px;height:161px"><i>39</i><p>Align and execute assortment plan adjustments and update purchase order</p><div class="ds"><u class="F ae"></u><u class="F ap"></u><u class="H m"></u><u class="H bp"></u><u class="R sl"></u><s><u class="R cs"></u><u class="R rb"></u><u class="R op"></u></s></div></div>
</body></html>
